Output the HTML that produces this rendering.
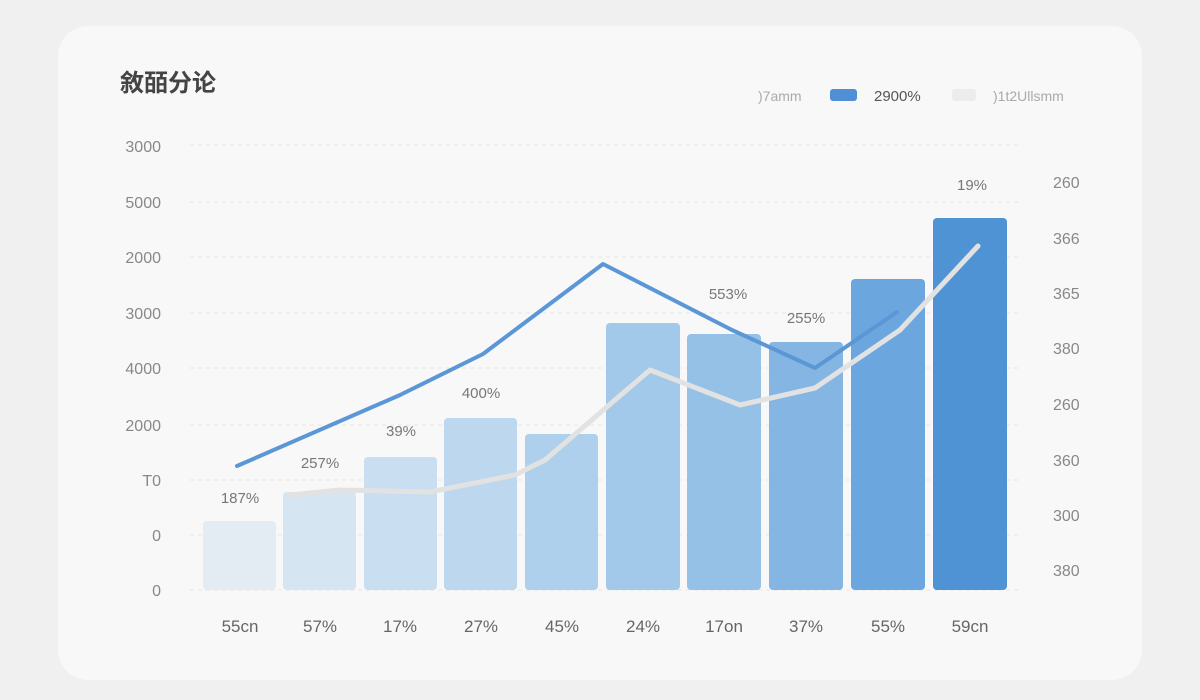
<!DOCTYPE html>
<html><head><meta charset="utf-8"><style>
html,body{margin:0;padding:0;background:#efefef;}
svg{display:block;font-family:"Liberation Sans","Noto Sans CJK SC",sans-serif;}
</style></head><body>
<svg width="1200" height="700" viewBox="0 0 1200 700">
<rect x="0" y="0" width="1200" height="700" fill="#f0f0f0"/>
<rect x="58" y="26" width="1084" height="654" rx="30" fill="#f8f8f8"/>
<text x="120" y="91" font-size="24" font-weight="bold" fill="#444">敘皕分论</text>
<text x="758" y="101" font-size="14" fill="#aaa">)7amm</text>
<rect x="830" y="89" width="27" height="12" rx="3" fill="#4f8fd5"/>
<text x="874" y="101" font-size="15" fill="#555">2900%</text>
<rect x="952" y="89" width="24" height="12" rx="3" fill="#ececec"/>
<text x="993" y="101" font-size="14" fill="#aaa">)1t2Ullsmm</text>
<g stroke="#e6e6e6" stroke-dasharray="4,4" stroke-width="1">
<line x1="190" x2="1020" y1="145" y2="145"/><line x1="190" x2="1020" y1="202" y2="202"/>
<line x1="190" x2="1020" y1="257" y2="257"/><line x1="190" x2="1020" y1="313" y2="313"/>
<line x1="190" x2="1020" y1="368" y2="368"/><line x1="190" x2="1020" y1="425" y2="425"/>
<line x1="190" x2="1020" y1="480" y2="480"/><line x1="190" x2="1020" y1="535" y2="535"/>
<line x1="190" x2="1020" y1="590" y2="590"/></g>
<g font-size="16" fill="#888" text-anchor="end">
<text x="161" y="152">3000</text><text x="161" y="208">5000</text><text x="161" y="263">2000</text>
<text x="161" y="319">3000</text><text x="161" y="374">4000</text><text x="161" y="431">2000</text>
<text x="161" y="486">T0</text><text x="161" y="541">0</text><text x="161" y="596">0</text></g>
<g font-size="16" fill="#888">
<text x="1053" y="188">260</text><text x="1053" y="244">366</text><text x="1053" y="299">365</text>
<text x="1053" y="354">380</text><text x="1053" y="410">260</text><text x="1053" y="466">360</text>
<text x="1053" y="521">300</text><text x="1053" y="576">380</text></g>
<g>
<rect x="203" y="521" width="73" height="69" rx="4" fill="#e3ebf3"/>
<rect x="283" y="492" width="73" height="98" rx="4" fill="#d6e5f2"/>
<rect x="364" y="457" width="73" height="133" rx="4" fill="#c9def0"/>
<rect x="444" y="418" width="73" height="172" rx="4" fill="#bcd7ee"/>
<rect x="525" y="434" width="73" height="156" rx="4" fill="#aed0ec"/>
<rect x="606" y="323" width="74" height="267" rx="4" fill="#a2c9ea"/>
<rect x="687" y="334" width="74" height="256" rx="4" fill="#96c1e7"/>
<rect x="769" y="342" width="74" height="248" rx="4" fill="#85b6e3"/>
<rect x="851" y="279" width="74" height="311" rx="4" fill="#6ba6de"/>
<rect x="933" y="218" width="74" height="372" rx="4" fill="#5093d4"/>
</g>
<polyline points="237,466 400,395 483,354 603,264 732,330 815,368 897,312" fill="none" stroke="#5b97d6" stroke-width="4" stroke-linejoin="round" stroke-linecap="round"/>
<polyline points="290,495 340,490 430,492 515,475 545,460 650,370 740,405 815,388 900,330 978,246" fill="none" stroke="#e2e2e2" stroke-width="5" stroke-linejoin="round" stroke-linecap="round"/>
<g font-size="15" fill="#777" text-anchor="middle">
<text x="240" y="503">187%</text><text x="320" y="468">257%</text><text x="401" y="436">39%</text>
<text x="481" y="398">400%</text><text x="728" y="299">553%</text><text x="806" y="323">255%</text>
<text x="972" y="190">19%</text></g>
<g font-size="17" fill="#666" text-anchor="middle">
<text x="240" y="632">55cn</text><text x="320" y="632">57%</text><text x="400" y="632">17%</text>
<text x="481" y="632">27%</text><text x="562" y="632">45%</text><text x="643" y="632">24%</text>
<text x="724" y="632">17on</text><text x="806" y="632">37%</text><text x="888" y="632">55%</text>
<text x="970" y="632">59cn</text></g>
</svg>
</body></html>
